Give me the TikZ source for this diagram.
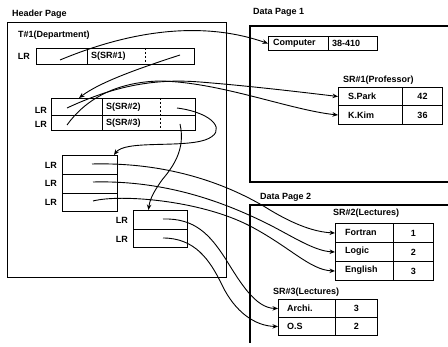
\documentclass[tikz,border=0pt]{standalone}
\usepackage{fontspec}
\setmainfont{Liberation Sans}
\usetikzlibrary{arrows.meta}
\tikzset{
  cell/.style={draw, line width=1pt, inner sep=0pt, anchor=north west},
  txt/.style={font=\fontsize{9}{10}\selectfont\bfseries, inner sep=0pt},
  arr/.style={line width=0.9pt, -{Stealth[length=5.5pt,width=4.5pt]}},
  page/.style={line width=1.1pt},
  sep/.style={line width=1pt, dash pattern=on 2pt off 2pt},
}
\begin{document}
\begin{tikzpicture}[x=1pt,y=-1pt]
\useasboundingbox (0,0) rectangle (448,347);
% pages
\node[page, draw, inner sep=0pt, anchor=north west, minimum width=219pt, minimum height=255pt] (hdr) at (7,22) {};
\node[txt, anchor=west] (hdrl) at (12,14) {Header Page};
\draw[page] (448,26) -- (250,26) -- (250,182) -- (448,182);
\node[txt, anchor=west] (dp1l) at (253,12) {Data Page 1};
\draw[page] (448,205) -- (250,205) -- (250,343);
\node[txt, anchor=west] (dp2l) at (260,197) {Data Page 2};

% T#1(Department)
\node[txt, anchor=west] (t1l) at (18,35) {T\#1(Department)};
\node[cell, minimum width=51pt, minimum height=16pt] (t1lr) at (36,48) {};
\node[cell, minimum width=107pt, minimum height=16pt] (t1s) at (87,48) {};
\draw[sep] ([xshift=58pt]t1s.north west) -- ([xshift=58pt]t1s.south west);
\node[txt, anchor=east] (t1lrl) at (30,56) {LR};
\node[txt, anchor=west] (t1st) at (91,56) {S(SR\#1)};

% LR table of SR#1
\node[cell, minimum width=51pt, minimum height=17pt] (lr2a) at (51,98) {};
\node[cell, minimum width=93pt, minimum height=17pt] (s2a) at (102,98) {};
\node[cell, minimum width=51pt, minimum height=15pt] (lr2b) at (51,115) {};
\node[cell, minimum width=93pt, minimum height=15pt] (s2b) at (102,115) {};
\draw[sep] ([xshift=58pt]s2a.north west) -- ([xshift=58pt]s2b.south west);
\node[txt, anchor=east] (lr2al) at (47,110) {LR};
\node[txt, anchor=east] (lr2bl) at (47,124) {LR};
\node[txt, anchor=west] (s2at) at (106,107) {S(SR\#2)};
\node[txt, anchor=west] (s2bt) at (106,123) {S(SR\#3)};

% LR table of SR#2
\node[cell, minimum width=55pt, minimum height=19pt] (lr3a) at (62,155) {};
\node[cell, minimum width=55pt, minimum height=19pt] (lr3b) at (62,174) {};
\node[cell, minimum width=55pt, minimum height=18pt] (lr3c) at (62,193) {};
\node[txt, anchor=east] (lr3al) at (57,165) {LR};
\node[txt, anchor=east] (lr3bl) at (57,183) {LR};
\node[txt, anchor=east] (lr3cl) at (57,202) {LR};

% LR table of SR#3
\node[cell, minimum width=54pt, minimum height=19pt] (lr4a) at (133,210) {};
\node[cell, minimum width=54pt, minimum height=18pt] (lr4b) at (133,229) {};
\node[txt, anchor=east] (lr4al) at (128,220) {LR};
\node[txt, anchor=east] (lr4bl) at (128,239) {LR};

% Data page 1
\node[cell, minimum width=60pt, minimum height=14pt] (comp) at (268,36) {};
\node[cell, minimum width=49pt, minimum height=14pt] (room) at (328,36) {};
\node[txt, anchor=west] (compt) at (273,43) {Computer};
\node[txt, anchor=west] (roomt) at (332,43) {38-410};

\node[txt, anchor=west] (sr1l) at (343,80) {SR\#1(Professor)};
\node[cell, minimum width=64pt, minimum height=18pt] (spark) at (338,87) {};
\node[cell, minimum width=40pt, minimum height=18pt] (sparkn) at (402,87) {};
\node[cell, minimum width=64pt, minimum height=19pt] (kkim) at (338,105) {};
\node[cell, minimum width=40pt, minimum height=19pt] (kkimn) at (402,105) {};
\node[txt, anchor=west] (sparkt) at (348,96) {S.Park};
\node[txt] (sparknt) at (sparkn.center) {42};
\node[txt, anchor=west] (kkimt) at (348,115) {K.Kim};
\node[txt] (kkimnt) at (kkimn.center) {36};

% Data page 2
\node[txt, anchor=west] (sr2l) at (333,213) {SR\#2(Lectures)};
\node[cell, minimum width=58pt, minimum height=19pt] (fort) at (335,223) {};
\node[cell, minimum width=40pt, minimum height=19pt] (fortn) at (393,223) {};
\node[cell, minimum width=58pt, minimum height=19pt] (logic) at (335,242) {};
\node[cell, minimum width=40pt, minimum height=19pt] (logicn) at (393,242) {};
\node[cell, minimum width=58pt, minimum height=19pt] (engl) at (335,261) {};
\node[cell, minimum width=40pt, minimum height=19pt] (engln) at (393,261) {};
\node[txt, anchor=west] (fortt) at (345,232.5) {Fortran};
\node[txt] (fortnt) at (fortn.center) {1};
\node[txt, anchor=west] (logict) at (345,251.5) {Logic};
\node[txt] (logicnt) at (logicn.center) {2};
\node[txt, anchor=west] (englt) at (345,270.5) {English};
\node[txt] (englnt) at (engln.center) {3};

\node[txt, anchor=west] (sr3l) at (273,292) {SR\#3(Lectures)};
\node[cell, minimum width=57pt, minimum height=18pt] (archi) at (278,299) {};
\node[cell, minimum width=42pt, minimum height=18pt] (archin) at (335,299) {};
\node[cell, minimum width=57pt, minimum height=18pt] (os) at (278,317) {};
\node[cell, minimum width=42pt, minimum height=18pt] (osn) at (335,317) {};
\node[txt, anchor=west] (archit) at (287,308) {Archi.};
\node[txt] (archint) at (archin.center) {3};
\node[txt, anchor=west] (ost) at (287,326) {O.S};
\node[txt] (osnt) at (osn.center) {2};

% pointer origins
\coordinate (p1) at (60,60);
\coordinate (p2) at (180,55);
\coordinate (p3) at (67,108);
\coordinate (p4) at (67,125);
\coordinate (p5) at (177,108);
\coordinate (p6) at (180,124);
\coordinate (p7) at (92,164);
\coordinate (p8) at (93,182);
\coordinate (p9) at (93,201);
\coordinate (p10) at (163,219);
\coordinate (p11) at (163,238);

% connectors
\draw[arr] (p1) .. controls (120,35) and (195,18) .. (comp.west);
\draw[arr] (p2) .. controls (140,68) and (100,82) .. ([xshift=2pt]lr2a.north);
\draw[arr] (p3) .. controls (110,88) and (150,78) .. (200,82) .. controls (250,86) and (300,92) .. (spark.west);
\draw[arr] (p4) .. controls (85,100) and (115,82) .. (160,81) .. controls (220,82) and (290,110) .. (kkim.west);
\draw[arr] (p5) .. controls (215,113) and (228,132) .. (205,140) .. controls (180,148) and (125,140) .. ([xshift=-4pt]lr3a.north east);
\draw[arr] (p6) .. controls (186,150) and (172,168) .. (162,180) .. controls (155,190) and (150,198) .. ([xshift=-12pt]lr4a.north);
\draw[arr] (p7) .. controls (170,162) and (230,185) .. (270,210) .. controls (295,225) and (315,232) .. (fort.west);
\draw[arr] (p8) .. controls (170,180) and (230,205) .. (270,225) .. controls (295,238) and (315,251) .. (logic.west);
\draw[arr] (p9) .. controls (120,194) and (200,200) .. (250,226) .. controls (290,247) and (310,270) .. (engl.west);
\draw[arr] (p10) .. controls (195,218) and (210,235) .. (225,258) .. controls (240,282) and (255,308) .. (archi.west);
\draw[arr] (p11) .. controls (195,238) and (210,260) .. (222,285) .. controls (235,312) and (255,326) .. (os.west);
\end{tikzpicture}
\end{document}
